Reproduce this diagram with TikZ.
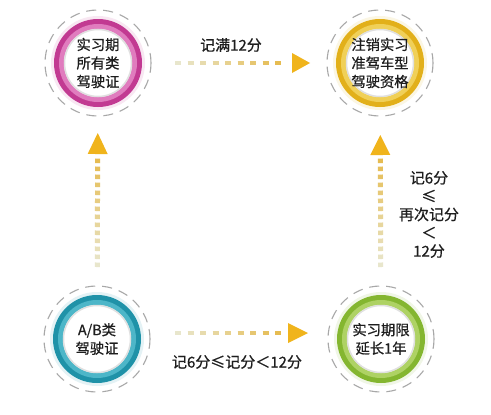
\documentclass[tikz,border=0pt]{standalone}
\usepackage{fontspec}
\newfontfamily\cjk[FakeBold=0.7]{Noto Sans CJK SC}
\usetikzlibrary{calc,backgrounds}
\definecolor{magD}{HTML}{C23A92}
\definecolor{magL}{HTML}{E07CBE}
\definecolor{yelD}{HTML}{E2B01A}
\definecolor{yelL}{HTML}{F0D058}
\definecolor{teaD}{HTML}{1F92A8}
\definecolor{teaL}{HTML}{4DB6C8}
\definecolor{griD}{HTML}{84B630}
\definecolor{griL}{HTML}{AED264}
\definecolor{dashA}{HTML}{E8E6CC}
\definecolor{dashB}{HTML}{E6BC52}
\definecolor{headcol}{HTML}{F0B41C}
\definecolor{ringgray}{HTML}{A8A8A8}
\definecolor{txt}{HTML}{1E1E1E}
\tikzset{
  circnode/.style={circle, minimum size=106pt, inner sep=0pt, draw=ringgray,
    line width=1.1pt, dash pattern=on 10pt off 7pt, align=center, text=txt,
    font=\cjk\fontsize{14.3}{18.5}\selectfont},
  lbl/.style={align=center, text=txt, inner sep=0pt, font=\cjk\fontsize{15}{18.3}\selectfont}
}
% #1 node name, #2 dark, #3 light
\newcommand\ringfill[3]{%
  \fill[#2!12] (#1) circle (47pt);
  \fill[#2] (#1) circle (44pt);
  \fill[#3] (#1) circle (39pt);
  \fill[white] (#1) circle (34pt);
  \draw[black!12, line width=1.5pt] (#1) circle (33.5pt);
}
% #1 from, #2 to, #3 start dist, #4 period, #5 count, #6 dash len, #7 dash width, #8 head base, #9 tip
\newcommand\fadearrow[9]{%
  \pgfmathtruncatemacro\lastidx{#5-1}%
  \foreach \i in {0,...,\lastidx}{%
    \pgfmathsetmacro\ds{#3+\i*#4}%
    \pgfmathsetmacro\de{\ds+#6}%
    \pgfmathsetmacro\pc{100*\i/\lastidx}%
    \draw[line width=#7, color=dashB!\pc!dashA] ($(#1)!\ds pt!(#2)$) -- ($(#1)!\de pt!(#2)$);
  }%
  \coordinate (hb) at ($(#1)!#8pt!(#2)$);
  \coordinate (ht) at ($(#1)!#9pt!(#2)$);
  \fill[headcol] (ht) -- ($(hb)!10pt!90:(ht)$) -- ($(hb)!10pt!-90:(ht)$) -- cycle;
}
\begin{document}
\begin{tikzpicture}[x=1pt,y=-1pt]
\useasboundingbox (0,0) rectangle (491,415);

\node[circnode] (tl) at (98,63) {实习期\\所有类\\驾驶证};
\node[circnode] (tr) at (380,63) {注销实习\\准驾车型\\驾驶资格};
\node[circnode] (bl) at (97,339) {A/B类\\驾驶证};
\node[circnode] (br) at (381,339) {实习期限\\延长1年};

\begin{scope}[on background layer]
  \fill[white] (0,0) rectangle (491,415);
  \ringfill{tl}{magD}{magL}
  \ringfill{tr}{yelD}{yelL}
  \ringfill{bl}{teaD}{teaL}
  \ringfill{br}{griD}{griL}
\end{scope}

% arrows
\fadearrow{tl}{tr}{77}{12.5}{9}{6}{4.5pt}{194}{212}
\coordinate (bla) at ($(bl)+(0,-6)$);
\coordinate (bra) at ($(br)+(0,-6)$);
\fadearrow{bla}{bra}{78}{12.5}{9}{6}{4.5pt}{191}{211}
\fadearrow{bl}{tl}{72}{8}{14}{4.5}{5pt}{185}{206}
\fadearrow{br}{tr}{72}{8}{14}{4.5}{5pt}{184}{204}

% labels
\node[lbl] (l1) at (231,45) {记满12分};
\node[lbl] (l2) at (237,362) {记6分≤记分＜12分};
\node[lbl] (l3) at (429,214.5) {记6分\\≤\\再次记分\\＜\\12分};
\end{tikzpicture}
\end{document}
